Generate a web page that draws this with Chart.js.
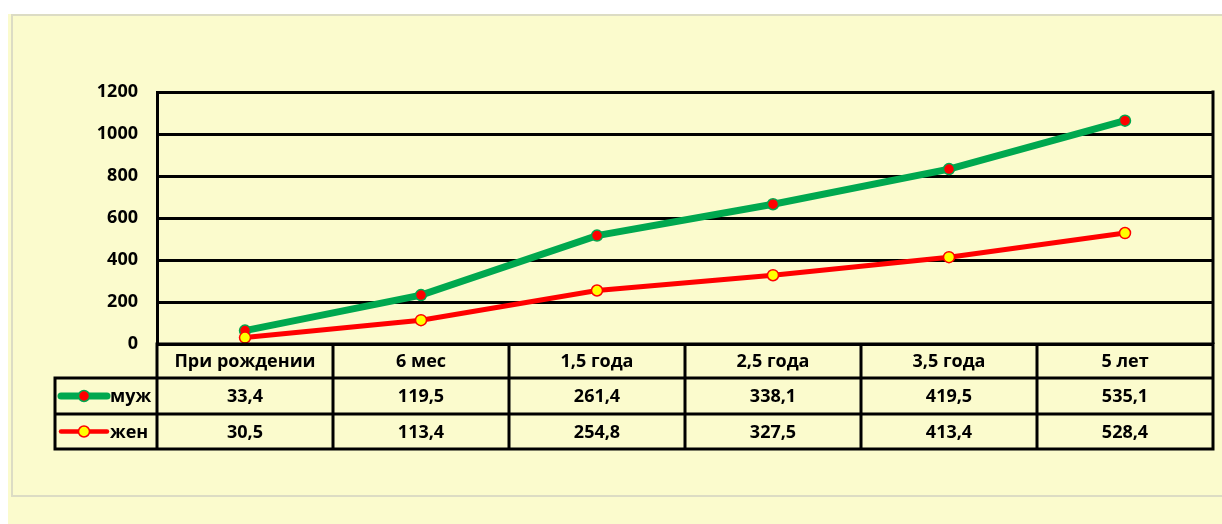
<!DOCTYPE html>
<html>
<head>
<meta charset="utf-8">
<script src="https://cdn.jsdelivr.net/npm/chart.js@4"></script>
<style>
  html, body { margin: 0; padding: 0; background: #ffffff; }
  #bg { position: absolute; left: 8px; top: 14px; width: 1214px; height: 510px; background: #fbfbcd; }
  #frame { position: absolute; left: 11px; top: 14px; width: 1220px; height: 483px; border: 2px solid #dcdcc4; box-sizing: border-box; }
  #wrap { position: absolute; left: 0; top: 0; width: 1222px; height: 524px; }
</style>
</head>
<body>
<div id="bg"></div>
<div id="frame"></div>
<div id="wrap"><canvas id="line_graph" width="1222" height="524"></canvas></div>
<script>
// data from the table under the chart
var labels = ["При рождении", "6 мес", "1,5 года", "2,5 года", "3,5 года", "5 лет"];
var muzh = [33.4, 119.5, 261.4, 338.1, 419.5, 535.1];
var zhen = [30.5, 113.4, 254.8, 327.5, 413.4, 528.4];
var yTicks = [0, 200, 400, 600, 800, 1000, 1200];

var FONT = "bold 18px 'Open Sans'";

function fmt(v) {
  return v.toFixed(1).replace('.', ',');
}

// table under the plot area (categories + values + legend keys)
var tablePlugin = {
  id: 'dataTable',
  afterDraw: function(chart) {
    var c = chart.ctx;
    var area = chart.chartArea;
    var xs = chart.scales.x;
    var n = labels.length;
    var w = (area.right - area.left) / n;
    var rows = [area.bottom, 378, 414, 449];
    var legLeft = 55;

    c.save();
    c.strokeStyle = '#000';
    c.lineWidth = 3;
    c.lineCap = 'square';
    // horizontal lines
    c.beginPath();
    c.moveTo(area.left, rows[0]); c.lineTo(area.right, rows[0]);
    for (var r = 1; r < 4; r++) {
      c.moveTo(legLeft, rows[r]); c.lineTo(area.right, rows[r]);
    }
    // vertical lines
    for (var i = 0; i <= n; i++) {
      var x = area.left + i * w;
      c.moveTo(x, rows[0]); c.lineTo(x, rows[3]);
    }
    c.moveTo(legLeft, rows[1]); c.lineTo(legLeft, rows[3]);
    c.stroke();

    c.fillStyle = '#000';
    c.font = FONT;
    c.textAlign = 'center';
    c.textBaseline = 'middle';
    for (var j = 0; j < n; j++) {
      var cx = xs.getPixelForValue(j);
      c.fillText(labels[j], cx, (rows[0] + rows[1]) / 2 + 1);
      c.fillText(fmt(muzh[j]), cx, (rows[1] + rows[2]) / 2 + 1);
      c.fillText(fmt(zhen[j]), cx, (rows[2] + rows[3]) / 2 + 1);
    }

    // legend keys
    var keys = [
      { name: 'муж', y: (rows[1] + rows[2]) / 2, line: '#00a84f', lw: 7, fill: '#ff0000', edge: '#00a84f' },
      { name: 'жен', y: (rows[2] + rows[3]) / 2, line: '#ff0000', lw: 4.5, fill: '#ffff00', edge: '#ff0000' }
    ];
    keys.forEach(function(k) {
      c.strokeStyle = k.line;
      c.lineWidth = k.lw;
      c.lineCap = 'round';
      c.beginPath();
      c.moveTo(61, k.y); c.lineTo(107, k.y);
      c.stroke();
      c.beginPath();
      c.arc(84, k.y, 5.5, 0, Math.PI * 2);
      c.fillStyle = k.fill;
      c.fill();
      c.lineWidth = 1.5;
      c.strokeStyle = k.edge;
      c.stroke();
      c.fillStyle = '#000';
      c.textAlign = 'left';
      c.fillText(k.name, 110, k.y + 1);
    });
    c.restore();
  }
};

var ctx = document.getElementById('line_graph');

var data = {
  labels: labels,
  datasets: [
    {
      label: "жен",
      data: zhen,
      borderColor: "#ff0000",
      backgroundColor: "#ffff00",
      borderWidth: 5,
      pointRadius: 5.5,
      pointBorderWidth: 1.5,
      pointBorderColor: "#ff0000",
      pointBackgroundColor: "#ffff00",
      fill: false,
      tension: 0
    },
    {
      label: "муж",
      data: muzh,
      borderColor: "#00a84f",
      backgroundColor: "#ff0000",
      borderWidth: 7,
      pointRadius: 5.5,
      pointBorderWidth: 1.5,
      pointBorderColor: "#00a84f",
      pointBackgroundColor: "#ff0000",
      fill: false,
      tension: 0
    }
  ]
};

var options = {
  responsive: false,
  animation: false,
  layout: { padding: { top: 92, bottom: 180, left: 0, right: 9 } },
  scales: {
    x: {
      display: false,
      offset: true
    },
    y: {
      stacked: true,
      min: 0,
      max: 1200,
      afterFit: function(s) { s.width = 157; },
      afterBuildTicks: function(s) { s.ticks = yTicks.map(function(v) { return { value: v }; }); },
      border: { display: true, color: '#000', width: 3 },
      grid: { color: '#000', lineWidth: 3, drawTicks: false },
      ticks: {
        color: '#000',
        padding: 19,
        font: { family: 'Open Sans', size: 18, weight: 'bold' },
        callback: function(v) { return String(v); }
      }
    }
  },
  plugins: {
    legend: { display: false },
    tooltip: { enabled: false }
  }
};

// right border of the plot area
var rightBorder = {
  id: 'rightBorder',
  beforeDatasetsDraw: function(chart) {
    var c = chart.ctx, a = chart.chartArea;
    c.save();
    c.strokeStyle = '#000';
    c.lineWidth = 3;
    c.beginPath();
    c.moveTo(a.right, a.top - 1.5);
    c.lineTo(a.right, a.bottom);
    c.stroke();
    c.restore();
  }
};

var chart = new Chart(ctx, {
  type: "line",
  data: data,
  options: options,
  plugins: [tablePlugin, rightBorder]
});
</script>
</body>
</html>
